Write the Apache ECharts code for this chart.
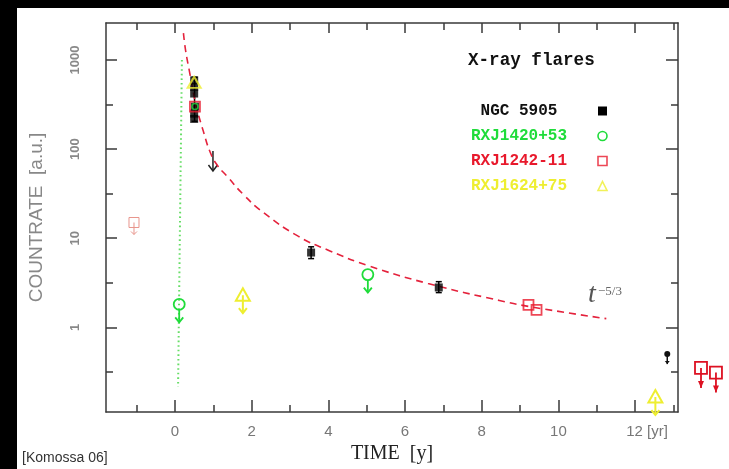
<!DOCTYPE html>
<html>
<head>
<meta charset="utf-8">
<script src="https://cdn.jsdelivr.net/npm/echarts@6/dist/echarts.min.js"></script>
<style>
  html, body { margin: 0; padding: 0; background: #000; }
  #chart { width: 729px; height: 469px; }
</style>
</head>
<body>
<div id="chart"></div>
<script>
// tick positions
const xMajorTicks = [0, 2, 4, 6, 8, 10, 12];
const xMinorTicks = [-1, 1, 3, 5, 7, 9, 11, 13];
const yMajorTicks = [1, 10, 100, 1000];
const yMinorTicks = [0.3162, 3.162, 31.62, 316.2];

// NGC 5905 (black)
const ngcPoints = [[0.5, 590], [0.5, 500], [0.5, 420], [0.52, 300], [0.5, 250], [0.5, 218], [3.55, 6.9], [6.88, 2.8]];
const ngcErrors = [[0.51, 205, 640], [3.55, 5.9, 8.0], [6.88, 2.45, 3.25]];
const ngcArrow = [[0.99, 95]];
const ngcDotLimit = [[12.84, 0.5]];

// RXJ1420+53 (green)
const greenPoints = [[0.52, 300]];
const greenLimits = [[0.11, 1.81], [5.03, 3.9]];
const greenLine = [[0.18, 1000], [0.08, 0.215]];

// RXJ1242-11 (red)
const redPoints = [[0.52, 300], [9.22, 1.78], [9.43, 1.57]];
const redFaintLimit = [[-1.07, 15]];
const redLateLimits = [[13.72, 0.35], [14.11, 0.31]];

// RXJ1624+75 (yellow)
const yellowPoints = [[0.5, 560]];
const yellowLimits = [[1.77, 2.29], [12.53, 0.165]];

// t^-5/3 curve, sampled along the dashed line
const decayCurve = [
  [0.22, 2000], [0.28, 1250], [0.38, 730], [0.47, 450], [0.565, 290], [0.74, 158],
  [0.91, 94], [1.09, 67], [1.35, 50], [1.78, 31], [2.3, 19.5], [3.2, 10.6],
  [4.04, 7.2], [5.05, 4.9], [6.6, 3.1], [8.46, 2.0], [9.34, 1.68], [11.25, 1.25]
];

const BLACK = "#000000";
const GREEN = "#1fdc3a";
const RED = "#e8192c";
const YELLOW = "#eeee30";
const AXIS = "#3a3a3a";

function limitItem(s) {
  return function (params, api) {
    const p = api.coord([api.value(0), api.value(1)]);
    const x = p[0], y = p[1];
    const children = [];
    const line = { stroke: s.color, lineWidth: s.width, fill: "none" };
    if (s.marker === "circle") {
      children.push({ type: "circle", shape: { cx: x, cy: y, r: s.size / 2 }, style: line });
    } else if (s.marker === "rect") {
      children.push({ type: "rect", shape: { x: x - s.size / 2, y: y - s.size / 2, width: s.size, height: s.size }, style: line });
    } else if (s.marker === "triangle") {
      children.push({
        type: "polygon",
        shape: { points: [[x, y - s.size * 0.5], [x + s.size / 2, y + s.size * 0.4], [x - s.size / 2, y + s.size * 0.4]] },
        style: line,
      });
    } else if (s.marker === "dot") {
      children.push({ type: "circle", shape: { cx: x, cy: y, r: s.size / 2 }, style: { fill: s.color } });
    }
    children.push({ type: "line", shape: { x1: x, y1: y + s.stemStart, x2: x, y2: y + s.len }, style: line });
    const tip = y + s.len;
    if (s.headFill) {
      children.push({
        type: "polygon",
        shape: { points: [[x - s.hw, tip - s.hh], [x + s.hw, tip - s.hh], [x, tip]] },
        style: { fill: s.color },
      });
    } else {
      children.push({
        type: "polyline",
        shape: { points: [[x - s.hw, tip - s.hh], [x, tip], [x + s.hw, tip - s.hh]] },
        style: line,
      });
    }
    return { type: "group", children: children };
  };
}

function errorItem(params, api) {
  const lo = api.coord([api.value(0), api.value(1)]);
  const hi = api.coord([api.value(0), api.value(2)]);
  const st = { stroke: BLACK, lineWidth: 1.5 };
  return {
    type: "group",
    children: [
      { type: "line", shape: { x1: lo[0], y1: lo[1], x2: hi[0], y2: hi[1] }, style: st },
      { type: "line", shape: { x1: lo[0] - 3, y1: lo[1], x2: lo[0] + 3, y2: lo[1] }, style: st },
      { type: "line", shape: { x1: hi[0] - 3, y1: hi[1], x2: hi[0] + 3, y2: hi[1] }, style: st },
    ],
  };
}

const chart = echarts.init(document.getElementById("chart"), null, { renderer: "canvas" });

const tickStyle = { color: AXIS, width: 1.5 };

function xAxisFor(position, ticks, len, main) {
  return {
    type: "value",
    position: position,
    min: -1.8,
    max: 13.12,
    splitLine: { show: false },
    axisLine: { show: main, onZero: false, lineStyle: tickStyle },
    axisTick: { show: true, inside: true, length: len, customValues: ticks, lineStyle: tickStyle },
    axisLabel: main && position === "bottom"
      ? {
          show: true,
          customValues: xMajorTicks,
          margin: 12,
          color: "#777",
          fontFamily: "Liberation Sans",
          fontSize: 15,
          formatter: (v) => (v === 12 ? "{yr|12 [yr]}" : String(v)),
          rich: { yr: { padding: [0, 0, 0, 24], color: "#777", fontFamily: "Liberation Sans", fontSize: 15 } },
        }
      : { show: false },
    name: main && position === "bottom" ? "TIME  [y]" : "",
    nameLocation: "middle",
    nameGap: 32,
    nameTextStyle: { fontFamily: "Liberation Serif", fontSize: 20, color: "#222" },
  };
}

function yAxisFor(position, ticks, len, main) {
  return {
    type: "log",
    logBase: 10,
    position: position,
    min: 0.112,
    max: 2600,
    splitLine: { show: false },
    minorTick: { show: false },
    axisLine: { show: main, onZero: false, lineStyle: tickStyle },
    axisTick: { show: true, inside: true, length: len, customValues: ticks, lineStyle: tickStyle },
    axisLabel: main && position === "left"
      ? {
          show: true,
          customValues: yMajorTicks,
          rotate: 90,
          margin: 24,
          color: "#888",
          fontFamily: "Liberation Sans",
          fontWeight: "bold",
          fontSize: 13,
          formatter: (v) => String(Math.round(v)),
        }
      : { show: false },
    name: main && position === "left" ? "COUNTRATE  [a.u.]" : "",
    nameLocation: "middle",
    nameRotate: 90,
    nameGap: 60,
    nameTextStyle: { fontFamily: "Liberation Sans", fontSize: 19, color: "#888" },
  };
}

const legendFont = { fontFamily: "Liberation Mono", fontWeight: "bold", fontSize: 16 };

const option = {
  backgroundColor: "#000",
  animation: false,
  grid: { left: 106, right: 51, top: 23, bottom: 51, containLabel: false },
  title: {
    text: "X-ray flares",
    left: 468,
    top: 52,
    padding: 0,
    textStyle: { fontFamily: "Liberation Mono", fontSize: 17.6, fontWeight: "bold", color: "#111" },
  },
  legend: {
    orient: "vertical",
    left: 457,
    top: 98,
    align: "right",
    itemWidth: 9,
    itemHeight: 9,
    itemGap: 9,
    selectedMode: false,
    formatter: "{a|{name}}",
    textStyle: {
      ...legendFont,
      rich: { a: { ...legendFont, width: 114, align: "center", lineHeight: 18, padding: [0, 17, 0, 0] } },
    },
    data: [
      { name: "NGC 5905", icon: "rect", itemStyle: { color: BLACK }, textStyle: { color: "#111" } },
      { name: "RXJ1420+53", icon: "circle", itemStyle: { color: "#fff", borderColor: GREEN, borderWidth: 1.6 }, textStyle: { color: GREEN } },
      { name: "RXJ1242-11", icon: "rect", itemStyle: { color: "#fff", borderColor: RED, borderWidth: 1.6 }, textStyle: { color: RED } },
      { name: "RXJ1624+75", icon: "triangle", itemStyle: { color: "#fff", borderColor: YELLOW, borderWidth: 1.6 }, textStyle: { color: YELLOW } },
    ],
  },
  xAxis: [
    xAxisFor("bottom", xMajorTicks, 12, true),
    xAxisFor("bottom", xMinorTicks, 7, false),
    xAxisFor("top", xMajorTicks, 10, true),
    xAxisFor("top", xMinorTicks, 7, false),
  ],
  yAxis: [
    yAxisFor("left", yMajorTicks, 11, true),
    yAxisFor("left", yMinorTicks, 7, false),
    yAxisFor("right", yMajorTicks, 12, true),
    yAxisFor("right", yMinorTicks, 7, false),
  ],
  graphic: [
    { type: "rect", z: -10, shape: { x: 17, y: 8, width: 712, height: 461 }, style: { fill: "#fff" } },
    { type: "text", left: 22, top: 451, style: { text: "[Komossa 06]", fontFamily: "Liberation Sans", fontSize: 14, fill: "#333" } },
    { type: "text", left: 588, top: 281, style: { text: "t", fontFamily: "Liberation Serif", fontStyle: "italic", fontSize: 28, fill: "#555" } },
    { type: "text", left: 598, top: 285, style: { text: "−5/3", fontFamily: "Liberation Serif", fontSize: 13, fill: "#666" } },
  ],
  series: [
    {
      name: "RXJ1420+53",
      type: "line",
      data: greenLine,
      symbol: "none",
      silent: true,
      lineStyle: { color: "#66dd66", width: 2, type: [1.6, 3] },
    },
    {
      name: "t-5/3",
      type: "line",
      data: decayCurve,
      smooth: true,
      symbol: "none",
      silent: true,
      lineStyle: { color: "#e4223c", width: 1.6, type: [7, 5] },
    },
    { name: "NGC 5905", type: "custom", data: ngcErrors, renderItem: errorItem, z: 3 },
    {
      name: "NGC 5905",
      type: "scatter",
      data: ngcPoints,
      symbol: "rect",
      symbolSize: 8,
      itemStyle: { color: BLACK },
      z: 3,
    },
    {
      name: "NGC 5905",
      type: "custom",
      data: ngcArrow,
      renderItem: limitItem({ marker: "none", color: "#222", width: 1.5, size: 0, stemStart: 0, len: 20, hw: 4.5, hh: 6, headFill: false }),
      z: 3,
    },
    {
      name: "NGC 5905",
      type: "custom",
      data: ngcDotLimit,
      renderItem: limitItem({ marker: "dot", color: "#111", width: 1.5, size: 6, stemStart: 0, len: 10, hw: 2.5, hh: 3, headFill: true }),
      z: 3,
    },
    {
      name: "RXJ1420+53",
      type: "scatter",
      data: greenPoints,
      symbol: "circle",
      symbolSize: 6,
      itemStyle: { color: "rgba(0,0,0,0)", borderColor: GREEN, borderWidth: 1.5 },
      z: 4,
    },
    {
      name: "RXJ1420+53",
      type: "custom",
      data: greenLimits,
      renderItem: limitItem({ marker: "circle", color: GREEN, width: 1.8, size: 11, stemStart: 5.5, len: 18, hw: 4, hh: 5, headFill: false }),
      z: 4,
    },
    {
      name: "RXJ1242-11",
      type: "scatter",
      data: redPoints,
      symbol: "rect",
      symbolSize: 10,
      itemStyle: { color: "rgba(0,0,0,0)", borderColor: RED, borderWidth: 1.8 },
      z: 5,
    },
    {
      name: "RXJ1242-11",
      type: "custom",
      data: redFaintLimit,
      renderItem: limitItem({ marker: "rect", color: "#e8958c", width: 1, size: 10, stemStart: 0, len: 12, hw: 3, hh: 3, headFill: false }),
      z: 5,
    },
    {
      name: "RXJ1242-11",
      type: "custom",
      data: redLateLimits,
      renderItem: limitItem({ marker: "rect", color: "#dd1122", width: 1.8, size: 12, stemStart: 0, len: 20, hw: 3, hh: 7, headFill: true }),
      z: 5,
    },
    {
      name: "RXJ1624+75",
      type: "scatter",
      data: yellowPoints,
      symbol: "triangle",
      symbolSize: [13, 11],
      itemStyle: { color: "rgba(0,0,0,0)", borderColor: YELLOW, borderWidth: 2 },
      z: 6,
    },
    {
      name: "RXJ1624+75",
      type: "custom",
      data: yellowLimits,
      renderItem: limitItem({ marker: "triangle", color: YELLOW, width: 2, size: 14, stemStart: 0, len: 18, hw: 4, hh: 5, headFill: false }),
      z: 6,
    },
  ],
};

chart.setOption(option);
</script>
</body>
</html>
